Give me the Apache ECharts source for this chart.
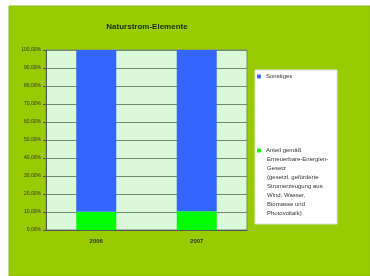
<!DOCTYPE html>
<html>
<head>
<meta charset="utf-8">
<script src="https://cdn.jsdelivr.net/npm/echarts@6/dist/echarts.min.js"></script>
<style>
  html, body { margin: 0; padding: 0; background: #ffffff; }
  #chart { width: 370px; height: 276px; }
</style>
</head>
<body>
<div id="chart"></div>
<script>
var years = ['2006', '2007'];
var eegShare = [10.2, 10.4];
var otherShare = [89.8, 89.6];
var yTicks = [0, 10, 20, 30, 40, 50, 60, 70, 80, 90, 100];
var eegName = 'Anteil gemäß';
var eegNameRest = 'Erneuerbare-Energien-\nGesetz\n(gesetzl. geförderte\nStromerzeugung aus\nWind, Wasser,\nBiomasse und\nPhotovoltaik)';
var otherName = 'Sonstiges';

var legendText = { fontFamily: 'Liberation Sans', fontSize: 6, color: '#333333', lineHeight: 9 };

var chart = echarts.init(document.getElementById('chart'), null, { renderer: 'canvas' });
chart.setOption({
  animation: false,
  backgroundColor: '#ffffff',
  graphic: [{
    type: 'rect',
    z: -10,
    shape: { x: 9, y: 6, width: 361, height: 270 },
    style: { fill: '#99cc00', stroke: '#8ab800', lineWidth: 1 }
  }, {
    type: 'rect',
    z: -5,
    shape: { x: 255, y: 70, width: 82, height: 154 },
    style: { fill: '#ffffff', stroke: '#e0e0e0', lineWidth: 1 }
  }, {
    type: 'text',
    left: 267, top: 155,
    style: { text: eegNameRest, font: '6px "Liberation Sans"', fill: '#333333', lineHeight: 9 }
  }],
  title: {
    text: 'Naturstrom-Elemente',
    left: 142,
    textAlign: 'center',
    top: 18,
    textStyle: { fontFamily: 'Liberation Sans', fontSize: 8, fontWeight: 'bold', color: '#1a2a00' }
  },
  grid: {
    left: 46, top: 50, width: 201, height: 180,
    show: true,
    backgroundColor: '#d9f9d9',
    borderColor: '#7a8a6a',
    borderWidth: 1
  },
  legend: [{
    left: 257, top: 72,
    padding: 0,
    itemWidth: 4, itemHeight: 4, itemGap: 3,
    data: [otherName],
    textStyle: legendText
  }, {
    left: 257, top: 146,
    padding: 0,
    itemWidth: 4, itemHeight: 4, itemGap: 3,
    data: [eegName],
    textStyle: legendText
  }],
  xAxis: {
    type: 'category',
    data: years,
    axisLine: { lineStyle: { color: '#555555' } },
    axisTick: { show: false },
    axisLabel: { fontFamily: 'Liberation Sans', fontSize: 6, fontWeight: 'bold', color: '#333333', margin: 8 }
  },
  yAxis: {
    type: 'value',
    min: yTicks[0], max: yTicks[yTicks.length - 1], interval: 10,
    axisLine: { show: true, lineStyle: { color: '#555555' } },
    axisTick: { show: true, length: 3, lineStyle: { color: '#555555' } },
    axisLabel: {
      fontFamily: 'Liberation Sans', fontSize: 5, color: '#333333', margin: 5,
      formatter: function (v) { return v.toFixed(2).replace('.', ',') + '%'; }
    },
    splitLine: { lineStyle: { color: '#6f8a6f', width: 1 } }
  },
  series: [{
    name: eegName,
    type: 'bar',
    stack: 'total',
    barWidth: 40,
    data: eegShare,
    itemStyle: { color: '#00ff00' }
  }, {
    name: otherName,
    type: 'bar',
    stack: 'total',
    barWidth: 40,
    data: otherShare,
    itemStyle: { color: '#3366ff' }
  }]
});
</script>
</body>
</html>
